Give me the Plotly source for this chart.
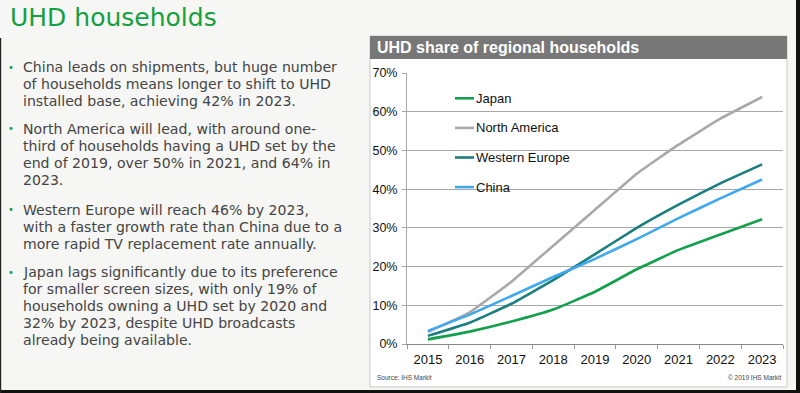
import plotly.graph_objects as go

years = ["2015", "2016", "2017", "2018", "2019", "2020", "2021", "2022", "2023"]
japan = [1.2, 3.2, 5.8, 8.9, 13.5, 19.3, 24.3, 28.3, 32.2]
north_america = [3.1, 8.2, 16.1, 25.4, 34.7, 44.0, 51.5, 58.2, 63.8]
western_europe = [2.1, 5.5, 10.4, 16.5, 23.2, 30.0, 36.0, 41.5, 46.4]
china = [3.4, 7.6, 12.4, 17.3, 22.0, 27.1, 32.5, 37.6, 42.5]

series_names = ["Japan", "North America", "Western Europe", "China"]
series_values = [japan, north_america, western_europe, china]
series_colors = ["#12a04c", "#a9a9a9", "#1a7f7e", "#40a8ee"]

slide_title = "UHD households"
chart_title = "UHD share of regional households"
source_left = "Source: IHS Markit"
source_right = "© 2019 IHS Markit"

bullets = [
    ["China leads on shipments, but huge number",
     "of households means longer to shift to UHD",
     "installed base, achieving 42% in 2023."],
    ["North America will lead, with around one-",
     "third of households having a UHD set by the",
     "end of 2019, over 50% in 2021, and 64% in",
     "2023."],
    ["Western Europe will reach 46% by 2023,",
     "with a faster growth rate than China due to a",
     "more rapid TV replacement rate annually."],
    ["Japan lags significantly due to its preference",
     "for smaller screen sizes, with only 19% of",
     "households owning a UHD set by 2020 and",
     "32% by 2023, despite UHD broadcasts",
     "already being available."],
]

W, H = 800, 393


def px(x):
    return x / W


def py(y):
    return 1 - y / H


fig = go.Figure()
for name, vals, col in zip(series_names, series_values, series_colors):
    fig.add_trace(go.Scatter(
        x=years, y=vals, name=name, mode="lines",
        line=dict(color=col, width=2.6, shape="spline", smoothing=0.3),
        showlegend=False, hoverinfo="x+y+name",
    ))

shapes = []
annotations = []

# chart panel
shapes.append(dict(type="rect", xref="paper", yref="paper", x0=px(370), x1=px(787),
                   y0=py(387), y1=py(36), fillcolor="white",
                   line=dict(color="#c8c8c8", width=1), layer="below"))
shapes.append(dict(type="rect", xref="paper", yref="paper", x0=px(370), x1=px(787),
                   y0=py(59), y1=py(36), fillcolor="#777777",
                   line=dict(width=0), layer="below"))
# slide frame edges
shapes.append(dict(type="rect", xref="paper", yref="paper", x0=0, x1=1,
                   y0=py(393), y1=py(390), fillcolor="#111111", line=dict(width=0)))
shapes.append(dict(type="rect", xref="paper", yref="paper", x0=px(796), x1=1,
                   y0=0, y1=1, fillcolor="#111111", line=dict(width=0)))
shapes.append(dict(type="rect", xref="paper", yref="paper", x0=0, x1=px(1.2),
                   y0=0, y1=py(38), fillcolor="#222222", line=dict(width=0)))

# legend box (covers gridlines)
shapes.append(dict(type="rect", xref="paper", yref="paper", x0=px(433), x1=px(588),
                   y0=py(214), y1=py(80), fillcolor="white",
                   line=dict(width=0), layer="between"))
leg_y0, leg_gap = 98.3, 29.6
for i, (name, col) in enumerate(zip(series_names, series_colors)):
    yy = leg_y0 + i * leg_gap
    shapes.append(dict(type="line", xref="paper", yref="paper", x0=px(455), x1=px(474),
                       y0=py(yy), y1=py(yy), line=dict(color=col, width=2.6)))
    annotations.append(dict(text=name, xref="paper", yref="paper", x=px(474), y=py(yy),
                            xanchor="left", yanchor="middle", showarrow=False,
                            font=dict(family="Liberation Sans, Arial", size=13, color="#111111")))

# chart title
annotations.append(dict(text="<b>" + chart_title + "</b>", xref="paper", yref="paper",
                        x=px(375), y=py(47.5), xanchor="left", yanchor="middle",
                        showarrow=False,
                        font=dict(family="Liberation Sans, Arial", size=16, color="white")))
# sources
annotations.append(dict(text=source_left, xref="paper", yref="paper", x=px(375), y=py(377),
                        xanchor="left", yanchor="middle", showarrow=False,
                        font=dict(family="Liberation Sans, Arial", size=6.5, color="#444444")))
annotations.append(dict(text=source_right, xref="paper", yref="paper", x=px(782.5), y=py(377),
                        xanchor="right", yanchor="middle", showarrow=False,
                        font=dict(family="Liberation Sans, Arial", size=6.5, color="#444444")))

# slide title
annotations.append(dict(text=slide_title, xref="paper", yref="paper", x=px(7.5), y=py(17),
                        xanchor="left", yanchor="middle", showarrow=False,
                        font=dict(family="DejaVu Sans", size=25, color="#14a040")))

# bullets
bullet_starts = [67, 128.5, 209.5, 272]
line_gap = 17.0
for start, lines in zip(bullet_starts, bullets):
    annotations.append(dict(text="•", xref="paper", yref="paper", x=px(10.5), y=py(start),
                            xanchor="center", yanchor="middle", showarrow=False,
                            font=dict(family="DejaVu Sans", size=10, color="#14a040")))
    for j, ln in enumerate(lines):
        annotations.append(dict(text=ln, xref="paper", yref="paper", x=px(20.5),
                                y=py(start + j * line_gap), xanchor="left", yanchor="middle",
                                showarrow=False,
                                font=dict(family="DejaVu Sans", size=14.1, color="#444444")))

fig.update_layout(
    width=W, height=H,
    autosize=False,
    margin=dict(l=0, r=0, t=0, b=0, pad=0, autoexpand=False),
    paper_bgcolor="#f6f6f4",
    plot_bgcolor="white",
    shapes=shapes,
    annotations=annotations,
    showlegend=False,
    xaxis=dict(
        domain=[px(407), px(783)],
        type="category", range=[-0.5, 8.5],
        tickson="boundaries", ticks="outside", ticklen=4, tickcolor="#999999",
        showline=True, linecolor="#8a8a8a", linewidth=1,
        showgrid=False, zeroline=False, automargin=False,
        ticklabelstandoff=3,
        tickfont=dict(family="Liberation Sans, Arial", size=13, color="#111111"),
        fixedrange=True,
    ),
    yaxis=dict(
        domain=[py(344), py(73)],
        range=[0, 70], dtick=10, ticksuffix="%",
        ticks="outside", ticklen=4, tickcolor="#a8a8a8",
        showline=True, linecolor="#a8a8a8", linewidth=1,
        showgrid=True, gridcolor="#a8a8a8", gridwidth=1,
        zeroline=False, automargin=False,
        ticklabelstandoff=2,
        tickfont=dict(family="Liberation Sans, Arial", size=12.5, color="#111111"),
        fixedrange=True,
    ),
)

fig.write_html(
    "out.html",
    config={"displayModeBar": False},
    post_script="document.body.style.margin='0px';document.body.style.padding='0px';"
                "document.body.style.overflow='hidden';",
)
